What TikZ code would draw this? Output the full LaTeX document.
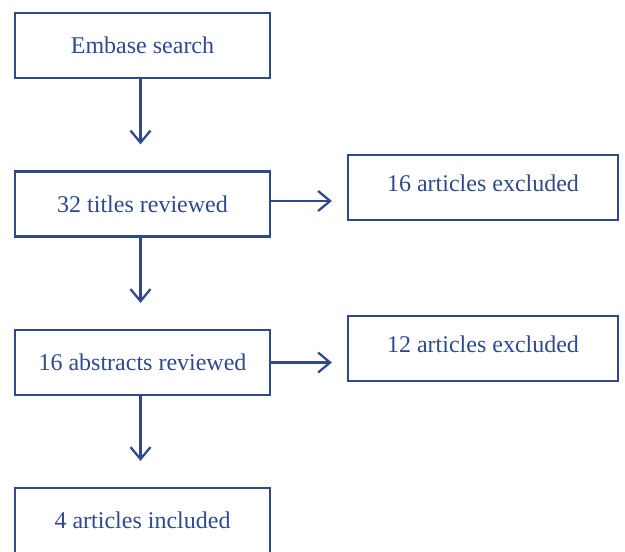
\documentclass[tikz,border=0pt]{standalone}
\usepackage{fontspec}
\setmainfont{Liberation Serif}
\usetikzlibrary{arrows.meta,positioning}
\definecolor{flowblue}{HTML}{2E4A8C}
\tikzset{
  stagebox/.style={draw=flowblue,line width=1.7pt,minimum width=191.25pt,minimum height=48.75pt,inner sep=0pt,text=flowblue,font=\fontsize{18}{22}\selectfont},
  sidebox/.style={stagebox,minimum width=202.5pt,text depth=6pt},
  flowarrow/.style={-{Straight Barb[length=9pt,width=15pt,line width=1.7pt]},line width=1.7pt,flowblue}
}

\begin{document}
\begin{tikzpicture}[x=0.75pt,y=-0.75pt]
  \useasboundingbox (0,0) rectangle (625,551);
  % left column
  \node[stagebox] (search) at (142.5,45.5) {Embase search};
  \node[stagebox] (titles) at (142.5,204) {32 titles reviewed};
  \node[stagebox] (abstracts) at (142.5,362.5) {16 abstracts reviewed};
  \node[stagebox] (included) at (142.5,520.5) {4 articles included};
  % exclusions
  \node[sidebox] (exclA) at (483,187.5) {16 articles excluded};
  \node[sidebox] (exclB) at (483,348.5) {12 articles excluded};
  \draw[flowarrow,shorten >=19.5pt] ([xshift=-1.5pt]search.south) -- ([xshift=-1.5pt]titles.north);
  \draw[flowarrow,shorten >=19.5pt] ([xshift=-1.5pt]titles.south) -- ([xshift=-1.5pt]abstracts.north);
  \draw[flowarrow,shorten >=19.5pt] ([xshift=-1.5pt]abstracts.south) -- ([xshift=-1.5pt]included.north);
  \draw[flowarrow,shorten >=11.25pt] ([yshift=2.25pt]titles.east) -- ([yshift=2.25pt]titles.east -| exclA.west);
  \draw[flowarrow,shorten >=11.25pt] (abstracts.east) -- (abstracts.east -| exclB.west);
\end{tikzpicture}
\end{document}
